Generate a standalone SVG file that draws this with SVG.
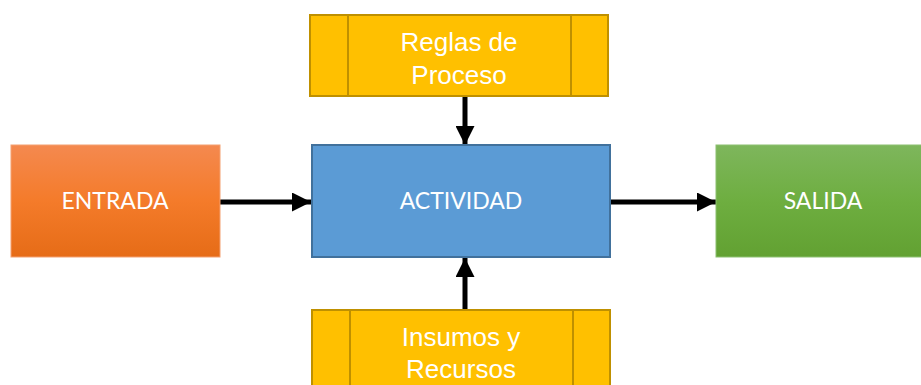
<svg xmlns="http://www.w3.org/2000/svg" width="921" height="385" viewBox="0 0 921 385">
<defs>
<linearGradient id="gOrange" x1="0" y1="0" x2="0" y2="1">
<stop offset="0" stop-color="#F4894F"/>
<stop offset="0.5" stop-color="#F47B2A"/>
<stop offset="1" stop-color="#E66C17"/>
</linearGradient>
<linearGradient id="gGreen" x1="0" y1="0" x2="0" y2="1">
<stop offset="0" stop-color="#7EB65C"/>
<stop offset="0.5" stop-color="#6EAE40"/>
<stop offset="1" stop-color="#62A132"/>
</linearGradient>
<marker id="arr" viewBox="0 0 10 10" refX="10" refY="5" markerWidth="3.8" markerHeight="3.8" markerUnits="strokeWidth" orient="auto">
<path d="M0,0 L10,5 L0,10 Z" fill="#000"/>
</marker>
<style>
.yel{fill:#FFC000;stroke:#BF9000;stroke-width:2}
.yl{stroke:#BF9000;stroke-width:2;fill:none}
.t1{font-family:"Liberation Sans",Arial,sans-serif;font-size:26px;fill:#fff;text-anchor:middle}
.t2{font-family:Lato,"Open Sans",sans-serif;font-size:23px;fill:#fff;text-anchor:middle}
.con{stroke:#000;stroke-width:5;fill:none;marker-end:url(#arr)}
</style>
</defs>
<g id="connectors">
<line class="con" x1="465" y1="96" x2="465" y2="145"/>
<line class="con" x1="465" y1="310" x2="465" y2="258"/>
<line class="con" x1="220" y1="202" x2="311" y2="202"/>
<line class="con" x1="610" y1="202" x2="716" y2="202"/>
</g>
<g id="reglas">
<rect class="yel" x="310" y="15" width="298" height="81"/>
<line class="yl" x1="348" y1="15" x2="348" y2="96"/>
<line class="yl" x1="571" y1="15" x2="571" y2="96"/>
<text class="t1" x="459" y="51">Reglas de</text>
<text class="t1" x="459" y="84">Proceso</text>
</g>
<g id="actividad">
<rect x="312" y="145" width="298" height="112" fill="#5B9BD5" stroke="#41719C" stroke-width="2"/>
<text class="t2" x="461" y="209">ACTIVIDAD</text>
</g>
<g id="insumos">
<rect class="yel" x="312" y="310" width="298" height="85"/>
<line class="yl" x1="350" y1="310" x2="350" y2="395"/>
<line class="yl" x1="573" y1="310" x2="573" y2="395"/>
<text class="t1" x="461" y="346">Insumos y</text>
<text class="t1" x="461" y="378">Recursos</text>
</g>
<g id="entrada">
<rect x="11" y="145" width="209" height="112" fill="url(#gOrange)" stroke="#F4A070" stroke-width="1"/>
<text class="t2" x="115" y="209">ENTRADA</text>
</g>
<g id="salida">
<rect x="716" y="145" width="214" height="112" fill="url(#gGreen)" stroke="#8CC070" stroke-width="1"/>
<text class="t2" x="823" y="209">SALIDA</text>
</g>
</svg>
